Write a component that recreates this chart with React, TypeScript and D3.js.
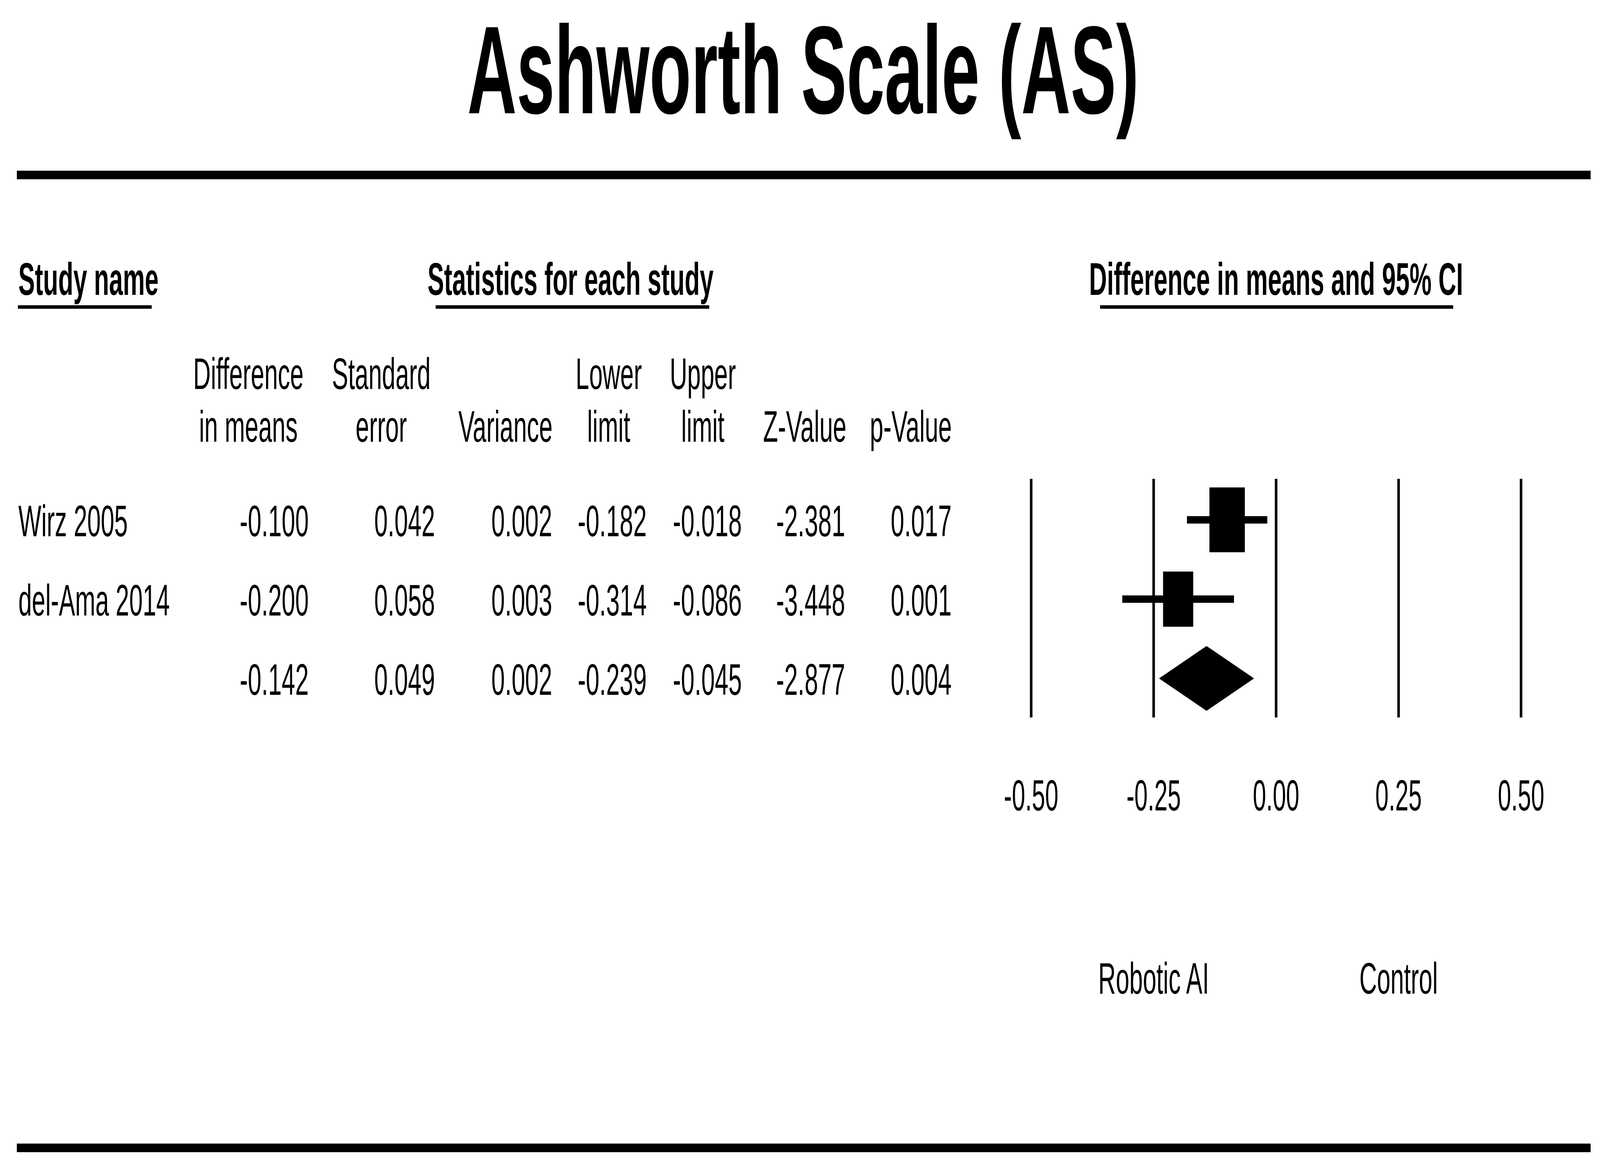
import React, { useEffect } from 'react';
import * as d3 from 'd3';

// Study rows
const studyNames = ['Wirz 2005', 'del-Ama 2014'];
const diffMeans = [-0.1, -0.2];
const stdErrors = [0.042, 0.058];
const variances = [0.002, 0.003];
const lowerLimits = [-0.182, -0.314];
const upperLimits = [-0.018, -0.086];
const zValues = [-2.381, -3.448];
const pValues = [0.017, 0.001];

// Pooled row
const summaryValues = [-0.142, 0.049, 0.002, -0.239, -0.045, -2.877, 0.004];

const columnHeaders = [
    ['Difference', 'in means'],
    ['Standard', 'error'],
    ['', 'Variance'],
    ['Lower', 'limit'],
    ['Upper', 'limit'],
    ['', 'Z-Value'],
    ['', 'p-Value'],
];

const tickValues = [-0.5, -0.25, 0, 0.25, 0.5];
const tickLabels = ['-0.50', '-0.25', '0.00', '0.25', '0.50'];
const favourLabels = ['Robotic AI', 'Control'];
const favourAt = [-0.25, 0.25];

const WIDTH = 7499;
const HEIGHT = 3011;
const FONT = '"Liberation Sans", Arial, sans-serif';

// layout (pixels)
const colRight = [1447, 2039, 2588, 3031, 3477, 3961, 4460];
const colCenter = [1164, 1787, 2369, 2853, 3294, 3772, 4269];
const plotLeft = 4833;
const plotRight = 7129;
const gridTop = 1226;
const gridBottom = 1837;

const App: React.FC = () => {
    useEffect(() => {
        document.body.style.margin = '0';
    }, []);

    const x = d3.scaleLinear().domain([-0.5, 0.5]).range([plotLeft, plotRight]);

    // row centres
    const y = d3.scaleLinear().domain([0, 2]).range([1331, 1737]);

    // box size from precision
    const box = d3
        .scaleSqrt()
        .domain([0, d3.max(stdErrors, (s) => 1 / s) || 1])
        .range([0, 166]);

    const rows = studyNames.map((name, i) => ({
        name,
        values: [diffMeans[i], stdErrors[i], variances[i], lowerLimits[i], upperLimits[i], zValues[i], pValues[i]],
    }));

    const diamond = d3.line<[number, number]>();
    const [sMean, , , sLow, sHigh] = summaryValues;
    const yS = y(2);
    const half = 83;
    const diamondPath =
        diamond([
            [x(sLow), yS],
            [x(sMean), yS - half],
            [x(sHigh), yS],
            [x(sMean), yS + half],
        ]) + 'Z';

    const textStyle = { fontFamily: FONT, fontSize: 114, fill: '#000' };
    const boldStyle = { fontFamily: FONT, fontSize: 116, fontWeight: 700, fill: '#000' };

    return (
        <svg
            viewBox={`0 0 ${WIDTH} ${HEIGHT}`}
            preserveAspectRatio="none"
            style={{ position: 'fixed', left: 0, top: 0, width: '100vw', height: '100vh', background: '#fff', display: 'block' }}
        >
            <rect width={WIDTH} height={HEIGHT} fill="#fff" />

            {/* title */}
            <text x={3764} y={290} textAnchor="middle" style={{ fontFamily: FONT, fontSize: 320, fontWeight: 700 }}>
                Ashworth Scale (AS)
            </text>

            {/* rules */}
            <rect x={79} y={437} width={7455 - 79} height={22} fill="#000" />
            <rect x={79} y={2928} width={7455 - 79} height={22} fill="#000" />

            {/* section headers */}
            <text x={86} y={755} style={boldStyle}>Study name</text>
            <line x1={84} x2={711} y1={786} y2={786} stroke="#000" strokeWidth={9} />
            <text x={2674} y={755} textAnchor="middle" style={boldStyle}>Statistics for each study</text>
            <line x1={2042} x2={3324} y1={786} y2={786} stroke="#000" strokeWidth={9} />
            <text x={(plotLeft + plotRight) / 2} y={755} textAnchor="middle" style={boldStyle}>
                Difference in means and 95% CI
            </text>
            <line x1={5156} x2={6811} y1={786} y2={786} stroke="#000" strokeWidth={9} />

            {/* column headers */}
            {columnHeaders.map((lines, c) => (
                <g key={c}>
                    {lines.map((t, k) =>
                        t ? (
                            <text key={k} x={colCenter[c]} y={996 + k * 135} textAnchor="middle" style={textStyle}>
                                {t}
                            </text>
                        ) : null
                    )}
                </g>
            ))}

            {/* study rows */}
            {rows.map((r, i) => (
                <g key={r.name}>
                    <text x={86} y={y(i) + 42} style={textStyle}>{r.name}</text>
                    {r.values.map((v, c) => (
                        <text key={c} x={colRight[c]} y={y(i) + 42} textAnchor="end" style={textStyle}>
                            {v.toFixed(3)}
                        </text>
                    ))}
                </g>
            ))}
            {summaryValues.map((v, c) => (
                <text key={c} x={colRight[c]} y={yS + 42} textAnchor="end" style={textStyle}>
                    {v.toFixed(3)}
                </text>
            ))}

            {/* vertical reference lines */}
            {tickValues.map((t) => (
                <line key={t} x1={x(t)} x2={x(t)} y1={gridTop} y2={gridBottom} stroke="#000" strokeWidth={12} />
            ))}

            {/* confidence intervals and boxes */}
            {rows.map((r, i) => {
                const s = box(1 / stdErrors[i]);
                return (
                    <g key={r.name}>
                        <line
                            x1={x(lowerLimits[i])}
                            x2={x(upperLimits[i])}
                            y1={y(i)}
                            y2={y(i)}
                            stroke="#000"
                            strokeWidth={19}
                        />
                        <rect x={x(diffMeans[i]) - s / 2} y={y(i) - s / 2} width={s} height={s} fill="#000" />
                    </g>
                );
            })}
            <path d={diamondPath} fill="#000" />

            {/* tick labels */}
            {tickValues.map((t, i) => (
                <text key={t} x={x(t)} y={2075} textAnchor="middle" style={{ ...textStyle, fontSize: 112 }}>
                    {tickLabels[i]}
                </text>
            ))}

            {favourLabels.map((l, i) => (
                <text key={l} x={x(favourAt[i])} y={2544} textAnchor="middle" style={textStyle}>
                    {l}
                </text>
            ))}
        </svg>
    );
};

export default App;
